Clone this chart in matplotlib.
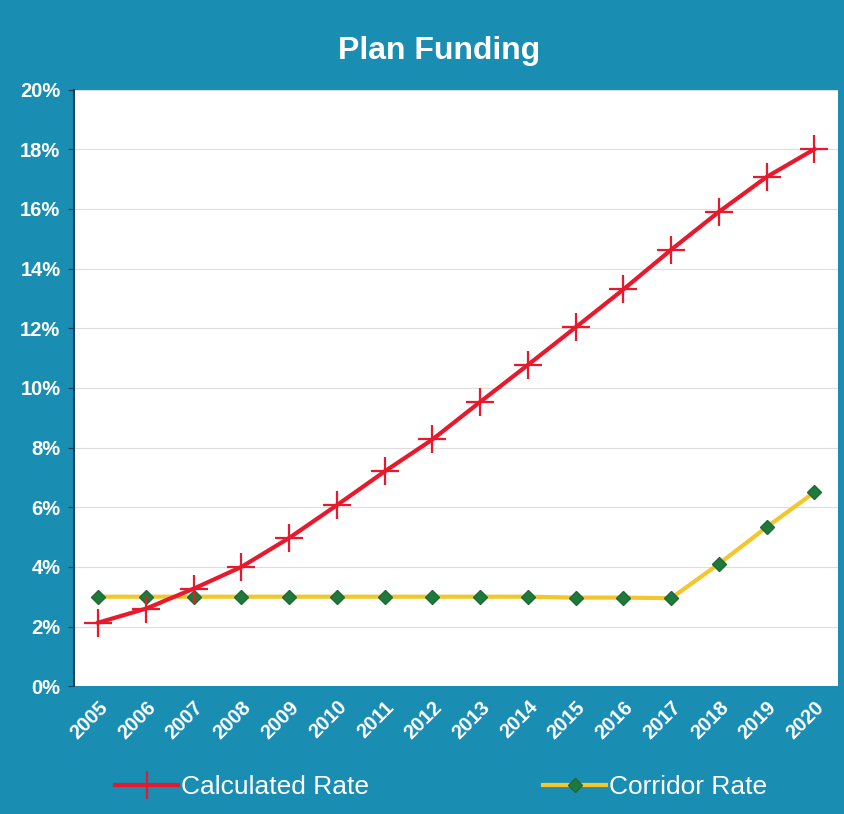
import matplotlib.pyplot as plt
from matplotlib.ticker import FuncFormatter

plt.rcParams['font.family'] = ['Liberation Sans', 'DejaVu Sans']

years = ['2005', '2006', '2007', '2008', '2009', '2010', '2011', '2012',
         '2013', '2014', '2015', '2016', '2017', '2018', '2019', '2020']
calculated_rate = [2.13, 2.6, 3.27, 4.0, 4.97, 6.07, 7.2, 8.27,
                   9.53, 10.77, 12.03, 13.3, 14.63, 15.9, 17.07, 18.0]
corridor_rate = [3.0, 3.0, 3.0, 3.0, 3.0, 3.0, 3.0, 3.0,
                 3.0, 3.0, 2.97, 2.97, 2.95, 4.1, 5.33, 6.5]

bg = '#1a8db3'
fig = plt.figure(figsize=(8.45, 8.14), dpi=100, facecolor=bg)
ax = fig.add_axes([0.088, 0.157, 0.904, 0.733])
ax.set_facecolor('white')

x = range(len(years))
ax.plot(x, calculated_rate, color='#e8192c', lw=3, marker='+', ms=20,
        mew=1.6, label='Calculated Rate', zorder=3)
ax.plot(x, corridor_rate, color='#f3c62c', lw=3, marker='D', ms=7,
        mfc='#1e7a3a', mec='#1e6a34', label='Corridor Rate', zorder=2)

ax.set_xlim(-0.5, len(years) - 0.5)
ax.set_ylim(0, 20)
ax.set_yticks(range(0, 21, 2))
ax.yaxis.set_major_formatter(FuncFormatter(lambda v, p: f'{v:.0f}%'))
ax.grid(axis='y', color='#dddddd', lw=0.8)
ax.set_axisbelow(True)

ax.set_xticks(list(x))
ax.set_xticklabels(years, rotation=45, ha='right', rotation_mode='anchor')
for lbl in ax.get_xticklabels() + ax.get_yticklabels():
    lbl.set_color('white')
    lbl.set_fontweight('bold')
    lbl.set_fontsize(14.5)
ax.tick_params(axis='y', length=4, color='#1f3f5a', pad=6)
ax.tick_params(axis='x', length=0, pad=8)

for side in ['top', 'right', 'bottom']:
    ax.spines[side].set_visible(False)
ax.spines['left'].set_color('#1f3f5a')
ax.spines['left'].set_linewidth(1.5)

fig.text(0.52, 0.937, 'Plan Funding', color='white', fontsize=23,
         fontweight='bold', ha='center', va='center')

leg = fig.legend(loc='center', bbox_to_anchor=(0.522, 0.033), ncol=2,
                 frameon=False, fontsize=19, columnspacing=6.6,
                 handlelength=2.4, handletextpad=0.1)
for t in leg.get_texts():
    t.set_color('white')

fig.savefig('out.png', dpi=100, facecolor=bg)
